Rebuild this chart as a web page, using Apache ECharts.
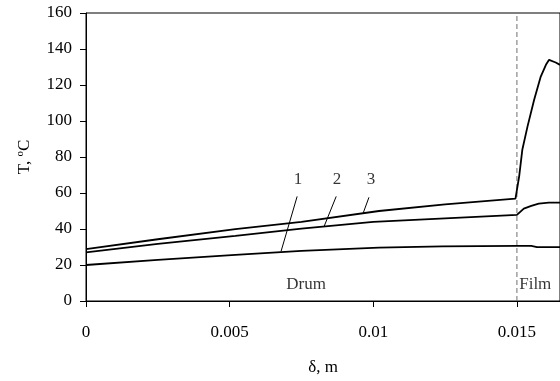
<!DOCTYPE html>
<html>
<head>
<meta charset="utf-8">
<script src="https://cdn.jsdelivr.net/npm/echarts@6/dist/echarts.min.js"></script>
<style>
  html, body { margin: 0; padding: 0; background: #fff; }
  #chart { width: 560px; height: 381px; }
</style>
</head>
<body>
<div id="chart"></div>
<script>
// curve values: [delta (m), T (°C)]
const curve1 = [
  [0, 20], [0.0025, 22.8], [0.0052, 25.6], [0.0075, 27.9], [0.0102, 29.7],
  [0.0124, 30.4], [0.015, 30.6], [0.0155, 30.6], [0.0157, 29.9], [0.0165, 29.9]
];
const curve2 = [
  [0, 27], [0.0025, 31.7], [0.0052, 36.2], [0.0075, 40.2], [0.01, 44.0],
  [0.0125, 45.9], [0.015, 47.8], [0.01524, 51.3], [0.0155, 52.8],
  [0.01576, 54.1], [0.01611, 54.6], [0.0165, 54.6]
];
const curve3 = [
  [0, 28.8], [0.0025, 34.3], [0.0052, 39.9], [0.0075, 43.9], [0.0102, 50.0],
  [0.0125, 53.7], [0.01495, 56.9], [0.01501, 56.2], [0.01508, 69.4],
  [0.01519, 84.2], [0.01537, 97.0], [0.0156, 111.8], [0.01583, 124.7],
  [0.01601, 131.2], [0.01612, 134], [0.01635, 132.5], [0.0165, 131.2]
];

const xTicks = { min: 0, max: 0.0165, interval: 0.005 };
const yTicks = { min: 0, max: 160, interval: 20 };
// drum / film boundary
const boundary = [[0.015, 0], [0.015, 160]];

// curve numbers and their leader lines (data coords)
const curveNames = ['1', '2', '3'];
const nameAnchors = [[0.00738, 67.4], [0.00874, 67.4], [0.00992, 67.4]];
const leaders = [
  [[0.00735, 58.1], [0.00679, 27.6]],
  [[0.00871, 58.1], [0.00829, 41.5]],
  [[0.00985, 57.6], [0.00965, 48.9]]
];
const zoneNames = ['Drum', 'Film'];
const zoneAnchors = [[0.00766, 9.4], [0.01508, 9.4]];

const FONT = '"Liberation Serif", "Times New Roman", serif';
const chart = echarts.init(document.getElementById('chart'), null, { renderer: 'canvas' });

const lineOf = (data, style, z) => ({
  type: 'line',
  data: data,
  showSymbol: false,
  symbol: 'none',
  silent: true,
  z: z,
  lineStyle: style
});

const curveSeries = [curve1, curve2, curve3].map(d => lineOf(d, { color: '#000', width: 1.8 }, 3));
const leaderSeries = leaders.map(seg => lineOf(seg, { color: '#000', width: 1 }, 2));
const boundarySeries = lineOf(boundary, { color: '#707070', type: [5, 3], width: 1 }, 1);

const textSeries = {
  type: 'scatter',
  symbolSize: 0,
  silent: true,
  z: 4,
  data: curveNames.map((n, i) => ({ value: nameAnchors[i], name: n }))
    .concat(zoneNames.map((n, i) => ({
      value: zoneAnchors[i], name: n,
      label: { align: i === 1 ? 'left' : 'center' }
    }))),
  label: {
    show: true,
    position: 'inside',
    formatter: p => p.name,
    color: '#000',
    fontFamily: FONT,
    fontSize: 17
  }
};

const option = {
  animation: false,
  backgroundColor: '#fff',
  grid: {
    left: 86, top: 13, right: -1, bottom: 79,
    show: true, borderColor: '#000', borderWidth: 1
  },
  xAxis: {
    type: 'value',
    min: xTicks.min, max: xTicks.max, interval: xTicks.interval,
    name: 'δ, m',
    nameLocation: 'middle',
    nameGap: 58,
    nameTextStyle: { fontFamily: FONT, fontSize: 17, color: '#000' },
    axisLine: { lineStyle: { color: '#000', width: 1 } },
    axisTick: { show: true, inside: false, length: 6, lineStyle: { color: '#000' } },
    axisLabel: {
      margin: 23, color: '#000', fontFamily: FONT, fontSize: 17,
      showMaxLabel: false,
      formatter: v => String(+v.toFixed(4))
    },
    splitLine: { show: false }
  },
  yAxis: {
    type: 'value',
    min: yTicks.min, max: yTicks.max, interval: yTicks.interval,
    name: 'T, {sup|o}C',
    nameLocation: 'middle',
    nameGap: 52,
    nameTextStyle: {
      fontFamily: FONT, fontSize: 17, color: '#000',
      rich: { sup: { fontFamily: FONT, fontSize: 11, verticalAlign: 'top', padding: [0, 0, 8, 0] } }
    },
    axisLine: { show: true, lineStyle: { color: '#000', width: 1 } },
    axisTick: { show: true, inside: false, length: 6, lineStyle: { color: '#000' } },
    axisLabel: { margin: 14, color: '#000', fontFamily: FONT, fontSize: 17 },
    splitLine: { show: false }
  },
  series: [boundarySeries, ...curveSeries, ...leaderSeries, textSeries]
};

chart.setOption(option);
</script>
</body>
</html>
